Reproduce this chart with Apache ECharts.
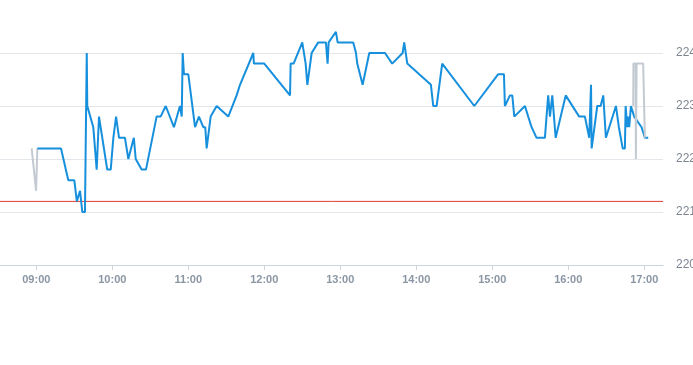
<!DOCTYPE html>
<html>
<head>
<meta charset="utf-8">
<style>html,body{margin:0;padding:0;background:#fff;}#chart{width:693px;height:365px;}</style>
<script src="https://cdn.jsdelivr.net/npm/echarts@6/dist/echarts.min.js"></script>
</head>
<body>
<div id="chart"></div>
<script>
// Regular session prices
const sessionTimes = ["09:00:50","09:19:30","09:25:15","09:30:00","09:32:00","09:34:30","09:36:20","09:38:25","09:39:50","09:40:15",
"09:45:00","09:47:40","09:49:30","09:56:00","09:58:45","10:00:50","10:03:00","10:04:15","10:05:20","10:10:00",
"10:12:40","10:17:00","10:18:30","10:23:10","10:26:35","10:35:00","10:38:10","10:42:10","10:48:40","10:53:25",
"10:54:50","10:55:35","10:56:35","11:00:00","11:05:20","11:08:25","11:11:50","11:13:25","11:14:30","11:17:40",
"11:22:25","11:31:35","11:38:10","11:40:50","11:51:20","11:51:50","12:00:00","12:20:20","12:20:50","12:23:10",
"12:30:00","12:32:40","12:34:00","12:37:25","12:42:35","12:48:40","12:50:00","12:50:50","12:56:35","12:57:55",
"13:10:15","13:12:25","13:13:25","13:17:40","13:22:55","13:35:20","13:41:00","13:49:15","13:50:30","13:52:55",
"14:11:35","14:13:25","14:16:05","14:20:30","14:45:50","15:04:45","15:09:15","15:10:00","15:14:00","15:15:50",
"15:17:25","15:25:50","15:28:25","15:31:05","15:35:00","15:41:35","15:44:10","15:45:35","15:47:25","15:50:05",
"15:58:00","16:08:40","16:13:10","16:16:35","16:18:00","16:18:30","16:22:55","16:25:35","16:27:40","16:29:45",
"16:37:40","16:40:00","16:43:00","16:44:45","16:45:20","16:46:35","16:47:25","16:48:10","16:49:30","16:52:05",
"16:57:55","17:00:30","17:03:10"];
const sessionPrices = [222.2,222.2,221.6,221.6,221.2,221.4,221.0,221.0,224.0,223.0,
222.6,221.8,222.8,221.8,221.8,222.4,222.8,222.8,222.4,222.4,
222.0,222.4,222.0,221.8,221.8,222.8,222.8,223.0,222.6,223.0,
222.8,224.0,223.6,223.6,222.6,222.8,222.6,222.6,222.2,222.8,
223.0,222.8,223.2,223.4,224.0,223.8,223.8,223.2,223.8,223.8,
224.2,223.8,223.4,224.0,224.2,224.2,223.8,224.2,224.4,224.2,
224.2,224.0,223.8,223.4,224.0,224.0,223.8,224.0,224.2,223.8,
223.4,223.0,223.0,223.8,223.0,223.6,223.6,223.0,223.2,223.2,
222.8,223.0,222.8,222.6,222.4,222.4,223.2,222.8,223.2,222.4,
223.2,222.8,222.8,222.4,223.4,222.2,223.0,223.0,223.2,222.4,
223.0,222.6,222.2,222.2,223.0,222.6,222.8,222.6,223.0,222.8,
222.6,222.4,222.4];

// Pre-market trades
const preTimes = ["08:56:20","08:59:50","09:00:50"];
const prePrices = [222.2,221.4,222.2];

// Closing auction / after-hours trades
const postTimes = ["16:51:20","16:51:30","16:53:10","16:53:25","16:54:00","16:59:10","17:00:30"];
const postPrices = [223.0,223.8,223.8,222.0,223.8,223.8,222.4];

const previousClose = 221.2;

const axisStart = "08:31:20";
const axisEnd = "17:14:50";
const hourTicks = ["09:00","10:00","11:00","12:00","13:00","14:00","15:00","16:00","17:00"];
const priceTicks = [220,221,222,223,224];

function toMin(s){const p=s.split(':').map(Number);return p[0]*60+p[1]+(p[2]||0)/60;}
function pad(n){return (n<10?'0':'')+n;}
function fmt(v){const h=Math.floor(v/60),m=Math.round(v-h*60);return pad(h)+':'+pad(m);}
function zip(t,v){return t.map((s,i)=>[toMin(s),v[i]]);}

const hourVals = hourTicks.map(toMin);
const xMin = toMin(axisStart), xMax = toMin(axisEnd);
const RED = '#e0392f';

const chart = echarts.init(document.getElementById('chart'), null, {renderer:'canvas'});
chart.setOption({
  animation:false,
  backgroundColor:'#ffffff',
  grid:{left:0,right:30,top:0,bottom:100,containLabel:false,outerBoundsMode:'none'},
  xAxis:{
    type:'value',
    min:xMin,
    max:xMax,
    axisLine:{show:true,lineStyle:{color:'#ccd4dc',width:1}},
    axisTick:{show:true,length:5,lineStyle:{color:'#ccd4dc'},customValues:hourVals},
    axisLabel:{customValues:hourVals,formatter:v=>fmt(v),color:'#8a96a3',fontSize:11,fontWeight:'bold',fontFamily:'Liberation Sans, Arial, sans-serif',margin:9},
    splitLine:{show:false}
  },
  yAxis:{
    type:'value',
    position:'right',
    min:220,max:225,interval:1,
    axisLine:{show:false},
    axisTick:{show:false},
    axisLabel:{color:'#7d8590',fontSize:12,fontFamily:'Liberation Sans, Arial, sans-serif',margin:13,showMaxLabel:false,
      formatter:v=>priceTicks.indexOf(v)>=0?String(v):''},
    splitLine:{show:true,showMaxLine:false,lineStyle:{color:'#e3e6ea',width:1}}
  },
  series:[
    {type:'line',name:'prevClose',data:[[xMin,previousClose],[xMax,previousClose]],symbol:'none',silent:true,
     lineStyle:{color:RED,width:1},itemStyle:{color:RED},z:1},
    {type:'line',data:zip(sessionTimes,sessionPrices),symbol:'none',lineStyle:{color:'#1690dd',width:2},itemStyle:{color:'#1690dd'},z:3},
    {type:'line',data:zip(preTimes,prePrices),symbol:'none',lineStyle:{color:'#c3cad2',width:2},z:2},
    {type:'line',data:zip(postTimes,postPrices),symbol:'none',lineStyle:{color:'#c3cad2',width:2},z:4}
  ]
});
</script>
</body>
</html>
